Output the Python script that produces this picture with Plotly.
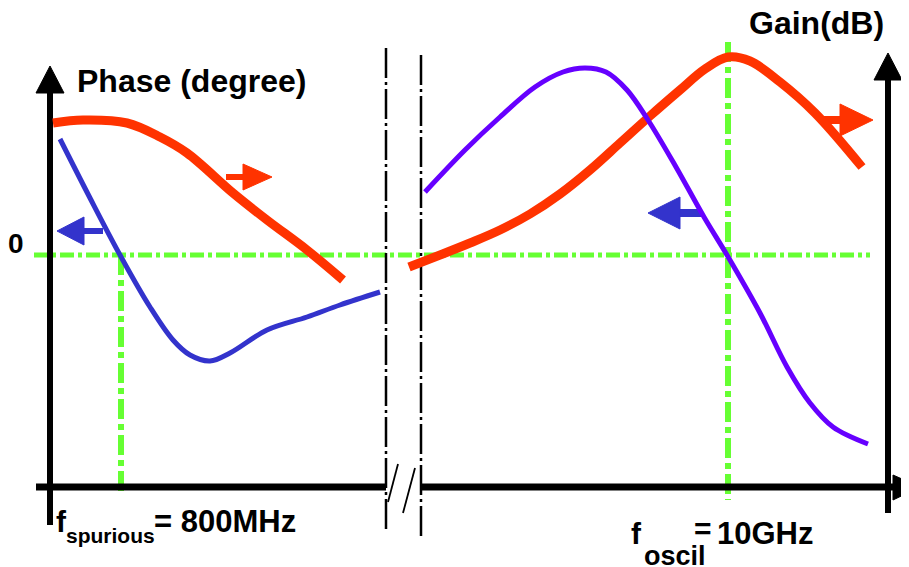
import plotly.graph_objects as go

# ---------------- data (diagram coordinates, y grows downward) ----------------
# left part : phase (blue) and gain (red) around f_spurious
red_left_x = [53, 83, 127, 160, 187, 233, 267, 307, 343]
red_left_y = [123, 120, 123, 137, 153, 193, 220, 250, 280]
blue_left_x = [60, 90, 120, 150, 173, 190, 210, 230, 267, 307, 340, 380]
blue_left_y = [139, 198, 255, 307, 340, 355, 361, 353, 330, 317, 305, 292]
# right part : phase (violet) and gain (red) around f_oscil
red_right_x = [409, 440, 470, 500, 530, 560, 590, 620, 650, 680, 705, 728, 750, 780, 815, 862]
red_right_y = [267, 255, 243, 230, 214, 194, 170, 143, 116, 90, 69, 57, 61, 82, 113, 167]
violet_x = [425, 465, 500, 535, 563, 585, 606, 627, 648, 676, 704, 727, 760, 787, 810, 833, 868]
violet_y = [192, 150, 117, 87, 72, 68, 72, 90, 120, 167, 217, 255, 313, 367, 403, 427, 444]

zero_level = 255          # phase = 0 line
f_spurious_x = 121
f_oscil_x = 728
break_x = [386, 421]

RED = "#ff3300"
BLUE = "#3333cc"
VIOLET = "#6600ff"
GREEN = "#66ff33"
BLACK = "#000000"

PAGE_OFFSET = 8  # default body margin of the html page

fig = go.Figure()

def poly(xs, ys, color):
    fig.add_trace(go.Scatter(x=xs + [xs[0]], y=ys + [ys[0]], mode="lines", fill="toself",
                             fillcolor=color, line=dict(color=color, width=1),
                             hoverinfo="skip", showlegend=False))

def seg(x0, y0, x1, y1, color, width, dash=None):
    fig.add_shape(type="line", xref="x", yref="y", x0=x0, y0=y0, x1=x1, y1=y1,
                  line=dict(color=color, width=width, dash=dash), layer="below")

# green guide lines
seg(34, zero_level, 870, zero_level, GREEN, 5, "14px,4px,4px,4px")
seg(f_spurious_x, zero_level, f_spurious_x, 493, GREEN, 6, "20px,5px,6px,5px")
seg(f_oscil_x, 42, f_oscil_x, 500, GREEN, 6, "20px,5px,6px,5px")

# break lines
seg(break_x[0], 48, break_x[0], 530, BLACK, 2.5, "30px,4px,3px,4px")
seg(break_x[1], 55, break_x[1], 537, BLACK, 2.5, "30px,4px,3px,4px")
seg(388, 502, 398, 464, BLACK, 1.8)
seg(403, 513, 415, 468, BLACK, 1.8)

# axes
seg(50, 88, 50, 525, BLACK, 6)
seg(36, 487, break_x[0], 487, BLACK, 7)
seg(break_x[1], 487, 896, 487, BLACK, 7)
seg(888, 78, 888, 513, BLACK, 6)
poly([50, 36, 64], [66, 93, 93], BLACK)
poly([888, 874, 902], [53, 80, 80], BLACK)
poly([893, 893, 920], [475, 500, 487], BLACK)

# curves
fig.add_trace(go.Scatter(x=red_left_x, y=red_left_y, mode="lines", line=dict(color=RED, width=9, shape="spline"), showlegend=False))
fig.add_trace(go.Scatter(x=blue_left_x, y=blue_left_y, mode="lines", line=dict(color=BLUE, width=5, shape="spline"), showlegend=False))
fig.add_trace(go.Scatter(x=red_right_x, y=red_right_y, mode="lines", line=dict(color=RED, width=9, shape="spline"), showlegend=False))
fig.add_trace(go.Scatter(x=violet_x, y=violet_y, mode="lines", line=dict(color=VIOLET, width=5, shape="spline"), showlegend=False))

# small direction arrows
seg(226, 177, 246, 177, RED, 6)
poly([243, 243, 272], [164, 190, 177], RED)
seg(81, 231, 103, 231, BLUE, 6)
poly([84, 84, 57], [217, 245, 231], BLUE)
seg(821, 120, 843, 120, RED, 8)
poly([840, 840, 873], [104, 136, 120], RED)
seg(676, 213, 701, 213, BLUE, 8)
poly([680, 680, 648], [197, 229, 213], BLUE)

FONT = "Liberation Sans, Arial, sans-serif"

def txt(x, y, s, size, xanchor="left"):
    fig.add_annotation(x=x, y=y, xref="x", yref="y", text="<b>" + s + "</b>", showarrow=False,
                       xanchor=xanchor, yanchor="middle", font=dict(family=FONT, size=size, color=BLACK),
                       borderpad=0)

txt(76, 81, "Phase (degree)", 32)
txt(748, 23, "Gain(dB)", 32)
txt(16, 243, "0", 28, "center")
txt(901, 447, "f", 30)
txt(55, 521, "f", 30)
txt(65, 535, "spurious", 21)
txt(153, 521, "= 800MHz", 31)
txt(630, 533, "f", 30)
txt(643, 556, "oscil", 27)
txt(693, 528, "=", 30)
txt(716, 533, "10GHz", 31)

fig.update_layout(
    width=909, height=567, margin=dict(l=0, r=0, t=0, b=0),
    paper_bgcolor="white", plot_bgcolor="white",
    xaxis=dict(range=[PAGE_OFFSET, 909 + PAGE_OFFSET], visible=False, fixedrange=True),
    yaxis=dict(range=[567 + PAGE_OFFSET, PAGE_OFFSET], visible=False, fixedrange=True),
    showlegend=False,
)

fig.write_html("out.html")
